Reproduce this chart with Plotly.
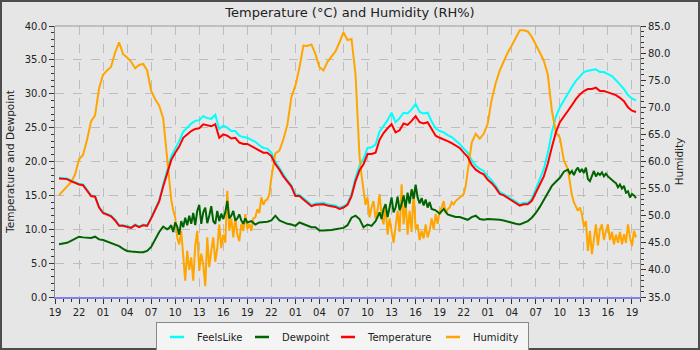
import pandas as pd
import plotly.graph_objects as go

START = pd.Timestamp("2024-06-01 19:00")


def span(a, b, step):
    n = int(round((b - a) / step)) + 1
    return [a + step * i for i in range(n)]


def to_time(hrs):
    return START + pd.to_timedelta(hrs, unit="h")


# sample times (hours after 19:00 on day 1)
temp_hours = span(0.5, 72.5, 0.5)
hum_hours = (span(0.5, 14.0, 0.5) + span(14.25, 27.0, 0.25) + span(27.5, 38.0, 0.5)
             + span(38.25, 51.5, 0.25) + span(52.0, 64.5, 0.5) + span(64.75, 72.5, 0.25))
dew_hours = (span(0.5, 14.0, 0.5) + span(14.25, 24.0, 0.25) + span(24.5, 40.0, 0.5)
             + span(40.25, 47.0, 0.25) + span(47.5, 64.0, 0.5) + span(64.25, 72.5, 0.25))

temperature = [
    17.5, 17.5, 17.4, 17.1, 16.8, 16.6, 16.5, 15.7, 14.9, 14.8,
    13.2, 12.4, 12.2, 11.9, 11.3, 10.5, 10.5, 10.4, 10.2, 10.6,
    10.3, 10.6, 10.5, 11.6, 12.9, 14.1, 16.3, 18.1, 20.2, 21.3,
    22.2, 23.5, 24.0, 24.5, 24.8, 24.9, 25.5, 25.3, 25.2, 25.5,
    23.5, 24.0, 23.8, 23.4, 23.5, 22.8, 22.6, 22.6, 22.3, 22.0,
    21.6, 21.3, 21.3, 20.8, 19.6, 18.8, 17.8, 17.0, 16.3, 14.9,
    14.9, 14.4, 13.9, 13.4, 13.6, 13.7, 13.7, 13.5, 13.4, 13.3,
    13.0, 13.2, 13.6, 14.9, 17.1, 18.7, 19.6, 21.1, 21.1, 21.3,
    23.2, 24.2, 24.9, 25.5, 24.3, 24.6, 25.6, 25.4, 26.0, 26.7,
    25.8, 25.6, 25.8, 24.8, 23.8, 23.5, 23.3, 23.0, 22.7, 22.4,
    22.0, 21.3, 20.7, 19.5, 18.8, 18.4, 18.1, 17.3, 16.8, 16.1,
    15.2, 15.0, 14.6, 14.3, 13.8, 13.5, 13.7, 13.7, 14.2, 15.5,
    16.6, 17.8, 19.7, 22.1, 24.3, 25.8, 26.6, 27.4, 28.3, 29.2,
    29.9, 30.4, 30.7, 30.7, 30.9, 30.4, 30.4, 30.2, 30.0, 29.8,
    29.4, 28.9, 28.0, 27.5, 27.3,
]

feels_like = [
    17.6, 17.6, 17.5, 17.2, 16.9, 16.7, 16.6, 15.8, 15.0, 14.9,
    13.3, 12.5, 12.3, 12.0, 11.4, 10.6, 10.6, 10.5, 10.3, 10.7,
    10.4, 10.7, 10.6, 11.7, 13.0, 14.3, 16.6, 18.6, 20.8, 21.9,
    23.0, 24.4, 25.0, 25.6, 26.0, 26.1, 26.7, 26.4, 26.3, 26.9,
    24.8, 25.3, 25.0, 24.5, 24.5, 23.8, 23.6, 23.5, 23.2, 22.9,
    22.4, 22.0, 21.9, 21.3, 20.0, 19.1, 18.0, 17.2, 16.5, 15.1,
    15.1, 14.6, 14.1, 13.6, 13.8, 13.9, 13.9, 13.7, 13.6, 13.5,
    13.2, 13.4, 13.8, 15.2, 17.6, 19.4, 20.4, 22.0, 22.1, 22.5,
    24.4, 25.2, 26.1, 27.2, 25.8, 26.4, 27.2, 27.1, 27.7, 28.5,
    27.3, 27.1, 27.2, 25.9, 24.9, 24.5, 24.3, 23.9, 23.6, 23.1,
    22.6, 21.9, 21.3, 20.2, 19.4, 18.9, 18.6, 17.8, 17.2, 16.4,
    15.5, 15.2, 14.8, 14.5, 14.0, 13.7, 13.9, 13.9, 14.5, 15.9,
    17.3, 18.9, 21.3, 24.3, 26.6, 28.0, 29.0, 30.1, 31.0, 31.9,
    32.6, 33.2, 33.4, 33.5, 33.6, 33.2, 33.2, 32.9, 32.6, 32.0,
    31.4, 30.7, 29.8, 29.3, 29.0,
]

dewpoint = [
    # 0.5h .. 14h (30 min)
    7.8, 7.9, 8.0, 8.3, 8.6, 8.9, 8.8, 8.8, 8.7, 8.9,
    8.5, 8.4, 8.2, 8.0, 7.7, 7.5, 7.1, 6.8, 6.7, 6.6,
    6.6, 6.6, 6.8, 7.4, 8.6, 9.6, 10.4, 10.0,
    # 14.25h .. 24h (15 min)
    10.2, 10.6, 9.6, 11.0, 10.4, 9.2, 11.2, 10.3, 11.7, 10.6,
    12.0, 10.8, 12.4, 10.6, 12.7, 13.6, 10.8, 12.5, 13.2, 10.9,
    12.0, 13.4, 11.2, 10.8, 12.7, 11.2, 12.3, 11.5, 12.5, 14.2,
    11.6, 12.0, 12.7, 11.3, 11.6, 12.2, 11.3, 10.8, 11.6, 11.0,
    # 24.5h .. 40h (30 min)
    11.2, 10.7, 11.0, 11.0, 11.1, 11.3, 12.0, 11.3, 11.0, 10.8,
    10.7, 10.5, 11.0, 10.8, 10.5, 10.3, 10.3, 9.8, 9.8, 9.8,
    9.9, 10.0, 10.1, 10.2, 10.6, 11.7, 12.0, 11.5, 10.3, 10.7,
    10.5, 11.2,
    # 40.25h .. 47h (15 min)
    11.8, 12.5, 11.5, 13.0, 13.7, 11.8, 13.2, 14.7, 12.5, 13.2,
    14.8, 12.8, 13.7, 15.0, 13.2, 15.4, 13.8, 15.9, 14.5, 16.6,
    14.7, 13.8, 14.6, 13.5, 14.4, 13.2, 14.0, 13.0,
    # 47.5h .. 64h (30 min)
    12.8, 12.3, 13.0, 12.2, 12.0, 11.8, 11.8, 11.6, 11.4, 11.8,
    12.0, 11.5, 11.4, 11.5, 11.5, 11.5, 11.4, 11.3, 11.1, 11.0,
    10.8, 10.7, 10.9, 11.2, 11.7, 12.4, 13.3, 14.3, 15.4, 16.4,
    17.0, 17.6, 18.5, 18.8,
    # 64.25h .. 72.5h (15 min)
    18.2, 18.6, 18.0, 18.7, 19.1, 18.4, 18.9, 18.3, 19.1, 17.4,
    17.1, 18.0, 18.6, 17.8, 18.3, 18.0, 18.4, 17.8, 18.2, 17.8,
    17.5, 17.3, 17.0, 16.8, 16.2, 16.6, 16.0, 16.4, 15.4, 15.6,
    14.7, 15.2, 15.0, 14.6,
]

humidity = [
    # 0.5h .. 14h (30 min)
    53.8, 54.6, 55.2, 56.2, 57.6, 60.4, 61.2, 64.0, 67.4, 68.5,
    73.5, 76.0, 76.8, 77.5, 80.1, 82.0, 79.8, 79.2, 78.4, 77.2,
    77.8, 78.0, 76.8, 73.0, 71.5, 70.3, 68.0, 60.1,
    # 14.25h .. 27h (15 min)
    57.0, 53.0, 51.0, 49.7, 46.0, 44.7, 47.2, 42.0, 38.0, 43.5,
    40.0, 42.3, 38.0, 44.5, 47.2, 39.8, 43.0, 41.0, 37.0, 46.0,
    40.5, 43.5, 46.0, 41.5, 44.0, 48.4, 44.0, 46.5, 45.0, 54.6,
    47.2, 49.5, 46.0, 49.7, 46.5, 45.3, 48.5, 47.2, 50.3, 47.5,
    48.5, 47.2, 49.5, 49.7, 51.2, 50.5, 53.4, 52.0, 52.8, 53.0,
    54.0, 57.0,
    # 27.5h .. 38h (30 min)
    61.5, 62.0, 64.1, 66.8, 71.9, 74.0, 77.3, 81.4, 81.3, 81.6,
    79.8, 77.4, 76.8, 78.4, 79.4, 80.3, 82.0, 83.8, 82.4, 82.6,
    76.1, 61.0,
    # 38.25h .. 51.5h (15 min)
    57.5, 54.6, 52.0, 53.4, 49.7, 51.5, 52.7, 49.5, 50.9, 54.0,
    50.0, 48.4, 52.0, 46.5, 49.5, 47.2, 45.0, 48.0, 50.9, 47.0,
    55.8, 48.4, 52.7, 46.5, 50.9, 47.0, 54.6, 47.5, 48.4, 45.5,
    47.2, 45.8, 48.4, 46.0, 47.2, 49.5, 47.5, 50.3, 48.5, 50.9,
    51.5, 52.7, 50.5, 51.2, 51.5, 52.5, 52.1, 52.7, 53.0, 53.4,
    53.6, 54.0, 55.5, 58.2,
    # 52h .. 64.5h (30 min)
    63.5, 65.1, 64.2, 65.1, 67.0, 71.5, 74.5, 76.8, 78.6, 80.1,
    81.4, 82.7, 84.2, 84.2, 84.0, 83.0, 81.4, 80.1, 78.6, 76.0,
    69.4, 65.4, 64.4, 60.2, 58.6, 53.8,
    # 64.75h .. 72.5h (15 min)
    52.5, 51.8, 50.9, 51.5, 50.3, 48.0, 49.0, 43.5, 47.2, 42.9,
    46.0, 48.4, 44.5, 47.5, 48.4, 45.5, 47.2, 48.4, 45.5, 47.0,
    44.7, 46.5, 45.0, 47.0, 44.7, 46.6, 45.0, 48.4, 46.0, 44.4,
    47.2, 46.0,
]

series_names = ["FeelsLike", "Dewpoint", "Temperature", "Humidity"]
series_colors = ["#00ffff", "#006400", "#ff0000", "#ffa500"]
TEMP_RANGE = [0, 40]
HUM_RANGE = [35, 85]

FONT = "DejaVu Sans"
fig = go.Figure()
line_kw = dict(width=2, shape="linear")
# FeelsLike on the left axis (base layer)
fig.add_trace(go.Scatter(x=to_time(temp_hours), y=feels_like, name=series_names[0], mode="lines",
                         line=dict(color=series_colors[0], **line_kw), yaxis="y", showlegend=False))
# humidity on its own right axis
fig.add_trace(go.Scatter(x=to_time(hum_hours), y=humidity, name=series_names[3], mode="lines",
                         line=dict(color=series_colors[3], **line_kw), yaxis="y2", showlegend=False))
# dewpoint and temperature on an overlay axis with the same range as the left axis (drawn on top)
fig.add_trace(go.Scatter(x=to_time(dew_hours), y=dewpoint, name=series_names[1], mode="lines",
                         line=dict(color=series_colors[1], **line_kw), yaxis="y3", showlegend=False))
fig.add_trace(go.Scatter(x=to_time(temp_hours), y=temperature, name=series_names[2], mode="lines",
                         line=dict(color=series_colors[2], **line_kw), yaxis="y3", showlegend=False))
# legend entries with short dash symbols
legend_widths = [40, 41, 60, 50]
for name, col, lw in zip(series_names, series_colors, legend_widths):
    fig.add_trace(go.Scatter(x=[None], y=[None], name=name, mode="markers", yaxis="y",
                             legendwidth=lw,
                             marker=dict(symbol="line-ew", size=10, color=col,
                                         line=dict(color=col, width=2.5))))

W, H = 700, 350
ML, MR, MT, MB = 55, 60, 26, 53
pw, ph = W - ML - MR, H - MT - MB


def px(x):
    return (x - ML) / pw


def py(y):
    return (H - MB - y) / ph


grid = dict(showgrid=True, gridcolor="#bdbdbd", griddash="dash", gridwidth=1)
tickstyle = dict(ticks="outside", ticklen=5, tickcolor="#333333", automargin=False,
                 tickfont=dict(size=10, color="#222222"))
fig.update_layout(
    template="none",
    width=W, height=H,
    margin=dict(l=ML, r=MR, t=MT, b=MB, autoexpand=False),
    paper_bgcolor="#e6e6e6", plot_bgcolor="#e6e6e6",
    font=dict(family=FONT, size=10, color="#222222"),
    title=dict(text="Temperature (°C) and Humidity (RH%)", x=0.5, xanchor="center",
               y=1 - 12 / H, yanchor="middle", font=dict(size=13, color="#222222")),
    xaxis=dict(type="date", range=[START, START + pd.Timedelta(hours=73)],
               tick0=START, dtick=3 * 3600 * 1000, tickformat="%H",
               minor=dict(dtick=3600 * 1000, ticks="outside", ticklen=3, tickcolor="#333333", showgrid=False),
               showline=True, linecolor="#8080ee", linewidth=2, zeroline=False, **grid, **tickstyle),
    yaxis=dict(range=TEMP_RANGE, dtick=5, tickformat=".1f", side="left",
               minor=dict(dtick=1, ticks="outside", ticklen=3, tickcolor="#333333"),
               showline=True, linecolor="#888888", zeroline=False,
               title=dict(text="Temperature and Dewpoint", font=dict(size=10.5), standoff=8),
               **grid, **tickstyle),
    yaxis2=dict(range=HUM_RANGE, dtick=5, tickformat=".1f", side="right", overlaying="y", anchor="x",
                minor=dict(dtick=1, ticks="outside", ticklen=3, tickcolor="#333333"),
                showgrid=False, showline=True, linecolor="#888888", zeroline=False,
                title=dict(text="Humidity", font=dict(size=10.5), standoff=6), **tickstyle),
    yaxis3=dict(range=TEMP_RANGE, overlaying="y", anchor="x", visible=False, showgrid=False,
                automargin=False),
    legend=dict(orientation="h", x=px(156), xanchor="left",
                y=py(321.5), yanchor="top",
                bgcolor="#f4f4f4", bordercolor="#888888", borderwidth=1,
                font=dict(size=10), itemwidth=30),
    showlegend=True,
)
fig.add_shape(type="line", xref="paper", yref="paper", x0=0, x1=1, y0=1, y1=1,
              line=dict(color="#999999", width=1))
fig.add_shape(type="rect", xref="paper", yref="paper",
              x0=px(1), x1=px(W - 1), y0=py(H - 1), y1=py(1),
              line=dict(color="#4d4d4d", width=2), layer="above")
fig.write_html("out.html")
